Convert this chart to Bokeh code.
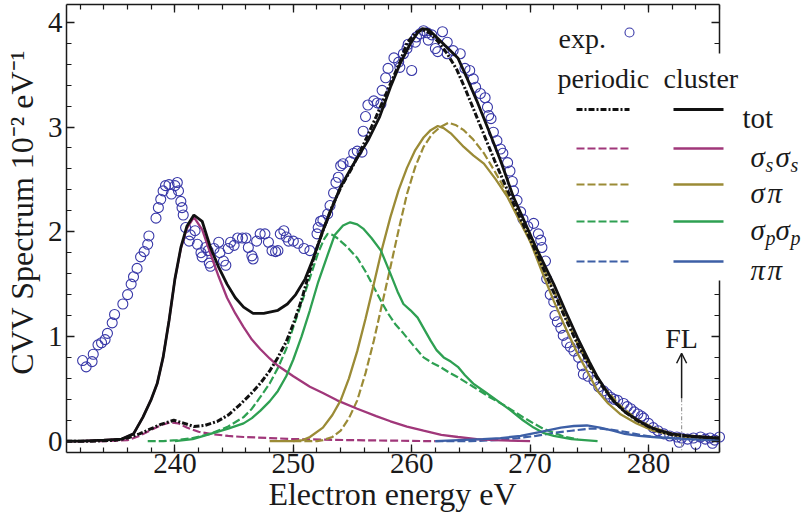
from bokeh.embed import file_html
from bokeh.models import (Arrow, BoxAnnotation, FixedTicker, Label, LinearAxis,
                          OpenHead, Range1d)
from bokeh.plotting import figure
from bokeh.resources import INLINE

# ---------------------------------------------------------------- data
# experimental CVV Auger spectrum (energy in eV, intensity in 1e-2 / eV)
exp_energy = [
    232.2, 232.5, 233.0, 233.1, 233.5, 233.8, 234.1, 234.3, 234.7, 234.9,
    235.6, 236.0, 236.3, 236.5, 236.8, 237.1, 237.4, 237.7, 237.8, 238.4,
    238.6, 238.8, 239.0, 239.2, 239.5, 239.7, 240.0, 240.2, 240.3, 240.5,
    240.6, 240.7, 240.9, 241.2, 241.3, 241.7, 241.9, 242.2, 242.3, 242.6,
    242.8, 242.9, 243.0, 243.3, 243.7, 243.8, 244.1, 244.3, 244.5, 244.7,
    245.0, 245.3, 245.7, 246.0, 246.2, 246.5, 246.6, 246.9, 247.2, 247.6,
    247.9, 248.2, 248.5, 248.7, 248.9, 249.2, 249.4, 249.6, 250.0, 250.4,
    250.9, 251.4, 252.0, 252.1, 252.3, 252.5, 252.9, 253.1, 253.4, 253.6,
    253.8, 254.0, 254.2, 254.8, 255.1, 255.4, 255.8, 255.9, 256.1, 256.3,
    256.8, 257.1, 257.4, 257.5, 257.8, 258.0, 258.5, 258.9, 259.0, 259.3,
    259.6, 259.7, 260.0, 260.3, 260.4, 260.7, 261.0, 261.3, 261.4, 261.7,
    262.0, 262.2, 262.6, 263.0, 263.0, 263.5, 264.1, 264.5, 264.9, 265.2,
    265.4, 265.8, 266.2, 266.4, 266.5, 266.7, 266.9, 267.2, 267.5, 267.7,
    268.1, 268.3, 268.5, 268.6, 268.9, 269.2, 269.4, 269.8, 270.3, 270.7,
    270.9, 271.0, 271.3, 271.4, 271.7, 272.0, 272.1, 272.3, 272.6, 272.8,
    273.1, 273.4, 273.7, 274.1, 274.4, 274.5, 274.9, 275.4, 275.8, 276.2,
    276.5, 276.8, 277.1, 277.4, 277.9, 278.2, 278.5, 278.8, 279.1, 279.4,
    279.6, 280.0, 280.4, 280.8, 281.3, 281.8, 282.4, 282.6, 282.8, 283.3,
    283.8, 284.0, 284.4, 284.8, 285.2, 285.4, 285.6, 286.0,
]
exp_cvv = [
    0.77, 0.71, 0.76, 0.83, 0.92, 0.94, 0.97, 1.03, 1.13, 1.21,
    1.31, 1.40, 1.50, 1.57, 1.65, 1.76, 1.81, 1.88, 1.96, 2.13,
    2.23, 2.31, 2.39, 2.44, 2.45, 2.36, 2.44, 2.47, 2.39, 2.29,
    2.23, 2.16, 2.04, 1.91, 1.97, 2.01, 1.88, 1.80, 1.76, 1.85,
    1.82, 1.70, 1.67, 1.84, 1.90, 1.80, 1.72, 1.68, 1.84, 1.90,
    1.87, 1.94, 1.94, 1.94, 1.85, 1.77, 1.74, 1.91, 1.98, 1.98,
    1.90, 1.82, 1.81, 1.82, 1.98, 2.01, 1.95, 1.91, 1.91, 1.89,
    1.84, 1.82, 1.98, 2.04, 2.10, 2.11, 2.17, 2.25, 2.37, 2.47,
    2.52, 2.63, 2.65, 2.67, 2.75, 2.77, 2.76, 2.96, 3.10, 3.21,
    3.25, 3.23, 3.22, 3.35, 3.47, 3.56, 3.66, 3.62, 3.57, 3.70,
    3.75, 3.79, 3.54, 3.81, 3.86, 3.89, 3.92, 3.90, 3.83, 3.88,
    3.75, 3.72, 3.91, 3.81, 3.70, 3.73, 3.70, 3.56, 3.54, 3.46,
    3.38, 3.32, 3.28, 3.19, 3.11, 3.08, 2.95, 2.87, 2.79, 2.75,
    2.66, 2.58, 2.48, 2.39, 2.30, 2.19, 2.12, 2.05, 2.08, 1.98,
    1.92, 1.85, 1.72, 1.55, 1.40, 1.33, 1.20, 1.14, 1.08, 1.01,
    0.94, 0.90, 0.86, 0.80, 0.72, 0.64, 0.62, 0.58, 0.52, 0.48,
    0.45, 0.42, 0.40, 0.39, 0.36, 0.33, 0.31, 0.28, 0.26, 0.24,
    0.22, 0.17, 0.13, 0.10, 0.07, 0.05, 0.04, -0.01, 0.03, 0.02,
    0.03, -0.03, 0.04, 0.02, 0.03, -0.02, 0.01, 0.04,
]

# total spectrum, cluster calculation
tot_cluster_e = [
    230.8, 232.0, 234.0, 235.5, 236.5, 237.3, 238.0, 238.5, 239.0, 239.5,
    240.0, 240.5, 241.0, 241.6, 242.3, 243.0, 243.7, 244.4, 245.1, 245.8,
    246.6, 247.5, 248.7, 249.5, 250.2, 251.0, 251.7, 252.5, 253.3, 254.0,
    255.0, 256.3, 257.3, 258.2, 259.0, 259.9, 260.5, 260.9, 261.4, 261.8,
    262.8, 263.9, 264.7, 265.5, 266.5, 267.5, 268.6, 269.2, 270.5, 272.0,
    273.0, 274.0, 275.0, 275.7, 276.5, 277.0, 278.0, 279.1, 280.0, 281.0,
    282.0, 283.3, 284.5, 286.0,
]
tot_cluster = [
    0.0, 0.0, 0.01, 0.02, 0.07, 0.23, 0.40, 0.55, 0.80, 1.15,
    1.55, 1.85, 2.05, 2.16, 2.10, 1.85, 1.66, 1.50, 1.37, 1.28,
    1.22, 1.22, 1.25, 1.31, 1.40, 1.55, 1.75, 2.01, 2.24, 2.43,
    2.63, 2.87, 3.10, 3.38, 3.60, 3.80, 3.90, 3.94, 3.93, 3.89,
    3.78, 3.66, 3.46, 3.25, 2.97, 2.68, 2.33, 2.18, 1.85, 1.50,
    1.24, 0.99, 0.76, 0.61, 0.47, 0.39, 0.28, 0.20, 0.14, 0.10,
    0.07, 0.05, 0.04, 0.03,
]

# total spectrum, periodic calculation
tot_periodic_e = [
    230.8, 233.0, 235.0, 236.0, 237.0, 238.0, 238.8, 239.9, 240.8, 241.6,
    242.5, 243.6, 244.5, 245.5, 246.4, 247.2, 248.0, 248.7, 249.4, 250.0,
    250.7, 251.4, 252.0, 252.5, 253.2, 254.0, 255.0, 256.0, 257.0, 258.0,
    259.0, 259.6, 260.3, 260.9, 261.5, 262.2, 263.0, 263.8, 264.5, 265.3,
    266.2, 267.0, 268.0, 269.0, 270.0, 271.0, 272.0, 273.0, 274.0, 275.0,
    276.0, 277.0, 278.0, 279.0, 280.0, 281.0, 282.0, 283.0, 284.5, 286.0,
]
tot_periodic = [
    0.0, 0.0, 0.01, 0.03, 0.07, 0.12, 0.16, 0.20, 0.17, 0.14,
    0.15, 0.19, 0.25, 0.35, 0.45, 0.55, 0.67, 0.80, 0.95, 1.12,
    1.35, 1.63, 1.85, 2.01, 2.22, 2.42, 2.62, 2.85, 3.10, 3.36,
    3.62, 3.80, 3.90, 3.93, 3.90, 3.82, 3.70, 3.55, 3.37, 3.15,
    2.90, 2.68, 2.42, 2.17, 1.93, 1.68, 1.42, 1.17, 0.93, 0.72,
    0.54, 0.39, 0.28, 0.20, 0.14, 0.09, 0.06, 0.05, 0.04, 0.03,
]

# sigma_s sigma_s partial spectrum
ss_cluster_e = [
    230.8, 232.0, 234.0, 235.5, 236.5, 237.3, 238.0, 238.5, 239.0, 239.5,
    240.0, 240.5, 241.0, 241.6, 242.3, 243.0, 243.7, 244.4, 245.1, 245.8,
    246.5, 247.2, 248.0, 248.7, 250.0, 251.4, 252.5, 253.7, 255.4, 257.0,
    258.2, 259.6, 261.0, 262.5, 263.9, 265.5, 267.0, 270.0,
]
ss_cluster = [
    0.0, 0.0, 0.01, 0.02, 0.07, 0.23, 0.40, 0.55, 0.80, 1.15,
    1.55, 1.84, 2.03, 2.14, 2.02, 1.79, 1.57, 1.37, 1.22, 1.09,
    0.97, 0.88, 0.79, 0.72, 0.62, 0.52, 0.46, 0.39, 0.31, 0.24,
    0.19, 0.14, 0.10, 0.06, 0.04, 0.02, 0.01, 0.0,
]
ss_periodic_e = [
    230.8, 234.0, 236.0, 237.0, 238.2, 239.0, 239.6, 240.3, 241.0, 242.0,
    243.0, 244.5, 245.8, 248.0, 250.0, 255.0, 262.0,
]
ss_periodic = [
    0.0, 0.0, 0.01, 0.05, 0.12, 0.16, 0.18, 0.17, 0.13, 0.09,
    0.07, 0.05, 0.04, 0.03, 0.02, 0.01, 0.0,
]

# sigma pi partial spectrum
sp_cluster_e = [
    248.0, 250.0, 250.8, 251.4, 252.5, 253.3, 254.0, 254.7, 255.4, 256.1,
    256.8, 257.5, 258.2, 258.9, 259.6, 260.3, 261.0, 261.6, 262.2, 262.7,
    263.3, 264.4, 265.2, 266.1, 267.1, 268.1, 269.0, 270.0, 271.0, 272.0,
    273.0, 274.0, 275.0, 275.7, 276.6, 277.6, 279.0, 280.4, 282.0, 283.3,
    286.0,
]
sp_cluster = [
    0.0, 0.0, 0.01, 0.04, 0.13, 0.25, 0.39, 0.60, 0.86, 1.17,
    1.50, 1.84, 2.14, 2.40, 2.61, 2.78, 2.90, 2.97, 3.01, 2.99,
    2.94, 2.81, 2.73, 2.65, 2.50, 2.33, 2.13, 1.91, 1.62, 1.34,
    1.08, 0.84, 0.63, 0.48, 0.36, 0.26, 0.17, 0.10, 0.06, 0.04,
    0.02,
]
sp_periodic_e = [
    250.0, 252.0, 252.5, 253.3, 254.0, 254.7, 255.4, 256.1, 256.8, 257.5,
    258.2, 258.9, 259.6, 260.3, 261.0, 261.7, 262.4, 263.1, 263.7, 264.4,
    265.2, 266.1, 267.1, 268.1, 269.0, 270.0, 271.0, 272.0, 273.0, 274.0,
    275.0, 276.2, 277.6, 279.0, 280.4, 282.0, 283.3, 286.0,
]
sp_periodic = [
    0.0, 0.0, 0.01, 0.04, 0.10, 0.22, 0.39, 0.65, 0.96, 1.31,
    1.66, 2.02, 2.36, 2.62, 2.81, 2.93, 3.00, 3.04, 3.02, 2.97,
    2.88, 2.75, 2.56, 2.36, 2.15, 1.91, 1.68, 1.44, 1.18, 0.93,
    0.73, 0.52, 0.34, 0.21, 0.13, 0.07, 0.05, 0.03,
]

# sigma_p sigma_p partial spectrum
pp_cluster_e = [
    240.0, 241.5, 243.0, 244.5, 245.8, 246.5, 247.2, 248.0, 248.7, 249.4,
    250.0, 250.7, 251.4, 252.1, 252.9, 253.5, 254.2, 254.8, 255.4, 255.9,
    256.6, 257.4, 258.2, 258.8, 259.3, 259.9, 260.5, 261.0, 261.6, 262.1,
    262.7, 263.3, 263.9, 264.5, 265.2, 266.2, 267.2, 268.3, 269.4, 270.3,
    271.1, 272.0, 273.5, 275.7,
]
pp_cluster = [
    0.0, 0.02, 0.07, 0.12, 0.17, 0.22, 0.29, 0.38, 0.48, 0.62,
    0.78, 1.00, 1.25, 1.52, 1.78, 1.97, 2.06, 2.09, 2.07, 2.03,
    1.94, 1.82, 1.60, 1.43, 1.31, 1.25, 1.18, 1.08, 0.96, 0.87,
    0.80, 0.76, 0.71, 0.63, 0.55, 0.47, 0.39, 0.30, 0.20, 0.13,
    0.08, 0.05, 0.02, 0.0,
]
pp_periodic_e = [
    237.7, 239.0, 240.2, 241.5, 243.0, 244.5, 245.8, 246.5, 247.2, 248.0,
    248.7, 249.4, 250.0, 250.7, 251.4, 252.1, 252.6, 252.9, 253.3, 253.7,
    254.5, 255.4, 256.1, 256.8, 257.4, 258.0, 258.6, 259.3, 260.1, 261.0,
    261.7, 262.4, 263.1, 263.9, 265.2, 266.6, 268.0, 269.4, 270.3, 271.1,
    272.0, 273.0, 274.0,
]
pp_periodic = [
    0.0, 0.0, 0.01, 0.03, 0.07, 0.14, 0.23, 0.31, 0.42, 0.55,
    0.70, 0.88, 1.09, 1.32, 1.56, 1.80, 1.93, 1.98, 1.97, 1.94,
    1.86, 1.75, 1.62, 1.47, 1.34, 1.22, 1.12, 1.03, 0.92, 0.80,
    0.75, 0.71, 0.66, 0.61, 0.52, 0.42, 0.33, 0.23, 0.17, 0.12,
    0.08, 0.04, 0.02,
]

# pi pi partial spectrum
pipi_cluster_e = [
    262.0, 264.0, 266.0, 267.5, 269.2, 270.9, 272.6, 273.7, 274.8, 275.9,
    277.0, 278.0, 279.2, 280.4, 282.0, 283.3, 286.0,
]
pipi_cluster = [
    0.0, 0.01, 0.02, 0.03, 0.05, 0.09, 0.13, 0.145, 0.15, 0.13,
    0.10, 0.07, 0.05, 0.04, 0.03, 0.02, 0.01,
]
pipi_periodic_e = [
    262.0, 265.0, 267.0, 269.0, 270.5, 272.0, 273.5, 275.0, 276.0, 276.8,
    278.0, 279.3, 280.5, 282.0, 283.5, 286.0,
]
pipi_periodic = [
    0.0, 0.0, 0.01, 0.03, 0.05, 0.08, 0.10, 0.12, 0.12, 0.11,
    0.09, 0.06, 0.04, 0.03, 0.02, 0.01,
]

fermi_level = 282.8
fl_arrow_span = (0.41, 0.84)   # arrow tail and tip, in spectrum units
fl_label_height = 0.98

x_major = [240, 250, 260, 270, 280]
y_major = [0, 1, 2, 3, 4]
x_minor = [232 + 2 * i for i in range(28)]
y_minor = [round(0.2 * i, 1) for i in range(21)]

NBSP = "\u00a0"
# the frame runs on under the legend, so pad the titles to centre them
# under the part of the frame enclosed by the spines
x_label = "Electron energy eV" + NBSP * 11
y_label = NBSP * 4 + "CVV Spectrum 10\u207b\u00b2 eV\u207b\u00b9"

# ---------------------------------------------------------------- geometry
W, H = 806, 521
FL, FT, FB = 66, 4, 452            # frame edges on the canvas
AX_R = 719                         # canvas x of the right spine
E0, E1 = 230.84, 286.0             # energy window enclosed by the spines
V0, V1 = -0.108, 4.17
PX_PER_EV = (AX_R - FL) / (E1 - E0)
E_CANVAS_END = E0 + (W - FL) / PX_PER_EV   # legend area right of the spine

SERIF = "Liberation Serif"
INK = "#1a1a1a"
C_EXP = "#3838a8"
C_TOT = "#111111"
C_SS = "#a0377a"
C_SP = "#9b8b36"
C_PP = "#2ea052"
C_PIPI = "#3d5fa6"
PERIODIC_DASH = "8 3"
TOT_DASH = "6 2 2 2"

p = figure(
    width=W, height=H,
    x_range=Range1d(E0, E_CANVAS_END), y_range=Range1d(V0, V1),
    x_axis_location=None, y_axis_location=None,
    min_border_left=FL, min_border_right=0,
    min_border_top=FT, min_border_bottom=H - FB,
    output_backend="svg", toolbar_location=None,
)
p.outline_line_color = None
p.background_fill_color = "white"
p.border_fill_color = "white"
p.xgrid.visible = False
p.ygrid.visible = False


def frame_axis(major, minor, labelled, bounds="auto"):
    ax = LinearAxis(ticker=FixedTicker(ticks=major, minor_ticks=minor),
                    bounds=bounds)
    ax.axis_line_color = INK
    ax.axis_line_width = 1.5
    ax.major_tick_line_color = INK
    ax.major_tick_line_width = 1.3
    ax.minor_tick_line_color = INK
    ax.minor_tick_line_width = 1.2
    ax.major_tick_in, ax.major_tick_out = 8, 0
    ax.minor_tick_in, ax.minor_tick_out = 5, 0
    if labelled:
        ax.major_label_text_font = SERIF
        ax.major_label_text_font_size = "29px"
        ax.major_label_text_color = INK
        ax.axis_label_text_font = SERIF
        ax.axis_label_text_font_size = "32px"
        ax.axis_label_text_font_style = "normal"
        ax.axis_label_text_color = INK
    else:
        ax.major_label_text_font_size = "0px"
        ax.major_label_text_alpha = 0
        ax.major_label_standoff = 0
    return ax


bottom = frame_axis(x_major, x_minor, True, bounds=(E0, E1))
bottom.major_label_standoff = 1
bottom.axis_label = x_label
bottom.axis_label_standoff = 0
left = frame_axis(y_major, y_minor, True)
left.major_label_standoff = 4
left.axis_label = y_label
left.axis_label_standoff = 5
top = frame_axis(x_major, x_minor, False, bounds=(E0, E1))
right = frame_axis(y_major, y_minor, False)
right.fixed_location = E1
p.add_layout(bottom, "below")
p.add_layout(left, "left")
p.add_layout(top, "above")
p.add_layout(right, "right")

# ---------------------------------------------------------------- curves
p.scatter(exp_energy, exp_cvv, marker="circle", size=10, fill_color=None,
          line_color=C_EXP, line_width=1.1)

for xs, ys, col in [(ss_periodic_e, ss_periodic, C_SS),
                    (sp_periodic_e, sp_periodic, C_SP),
                    (pp_periodic_e, pp_periodic, C_PP),
                    (pipi_periodic_e, pipi_periodic, C_PIPI)]:
    p.line(xs, ys, line_color=col, line_width=2.2, line_dash=PERIODIC_DASH)

for xs, ys, col in [(ss_cluster_e, ss_cluster, C_SS),
                    (sp_cluster_e, sp_cluster, C_SP),
                    (pp_cluster_e, pp_cluster, C_PP),
                    (pipi_cluster_e, pipi_cluster, C_PIPI)]:
    p.line(xs, ys, line_color=col, line_width=2.3)

p.line(tot_periodic_e, tot_periodic, line_color=C_TOT, line_width=3,
       line_dash=TOT_DASH)
p.line(tot_cluster_e, tot_cluster, line_color=C_TOT, line_width=2.8)

# Fermi level marker
p.line([fermi_level, fermi_level], [fl_arrow_span[0], V0],
       line_color="#9a9a9a", line_width=1.2, line_dash="4 2 1 2")
p.add_layout(Arrow(x_start=fermi_level, y_start=fl_arrow_span[0],
                   x_end=fermi_level, y_end=fl_arrow_span[1],
                   line_color=INK, line_width=1.5,
                   end=OpenHead(size=10, line_color=INK, line_width=1.5)))
p.add_layout(Label(x=fermi_level, y=fl_label_height, text="FL",
                   text_font=SERIF, text_font_size="28px", text_color=INK,
                   text_align="center", text_baseline="middle"))

# ---------------------------------------------------------------- legend
# white panel over the middle of the right spine
p.add_layout(BoxAnnotation(left=557, right=W, top=53, bottom=280,
                           left_units="canvas", right_units="canvas",
                           top_units="canvas", bottom_units="canvas",
                           fill_color="white", fill_alpha=1.0,
                           line_color=None, level="annotation"))


def legend_text(x, y, text, size="28px", italic=False):
    p.add_layout(Label(x=x, y=y, x_units="canvas", y_units="canvas",
                       text=text, text_font=SERIF, text_font_size=size,
                       text_font_style="italic" if italic else "normal",
                       text_color=INK, text_align="left",
                       text_baseline="alphabetic", level="overlay"))


def legend_line(x0, x1, y, color, width, dash):
    p.add_layout(Arrow(x_start=x0, y_start=y, x_end=x1, y_end=y,
                       start_units="canvas", end_units="canvas",
                       start=None, end=None, line_color=color,
                       line_width=width, line_dash=dash, level="overlay"))


legend_text(558, 38, "exp.")
key_e = E0 + (629 - FL) / PX_PER_EV
key_v = V1 - (32 - FT) * (V1 - V0) / (FB - FT)
p.scatter([key_e], [key_v], marker="circle", size=9, fill_color=None,
          line_color=C_EXP, line_width=1.1)
legend_text(557, 78, "periodic")
legend_text(663, 78, "cluster")

rows = [
    (109, C_TOT, TOT_DASH, 3.0, 2.8, [("tot", 0, 0, "29px", False)]),
    (148, C_SS, PERIODIC_DASH, 2.2, 2.3,
     [("\u03c3", 0, 0, "29px", True), ("s", 15, 8, "20px", True),
      ("\u03c3", 25, 0, "29px", True), ("s", 40, 8, "20px", True)]),
    (184, C_SP, PERIODIC_DASH, 2.2, 2.3,
     [("\u03c3", 0, 0, "29px", True), ("\u03c0", 17, 0, "29px", True)]),
    (221, C_PP, PERIODIC_DASH, 2.2, 2.3,
     [("\u03c3", 0, 0, "29px", True), ("p", 15, 8, "20px", True),
      ("\u03c3", 25, 0, "29px", True), ("p", 40, 8, "20px", True)]),
    (261, C_PIPI, PERIODIC_DASH, 2.2, 2.3,
     [("\u03c0", 0, 0, "29px", True), ("\u03c0", 17, 0, "29px", True)]),
]
for y, col, dash, wp, wc, parts in rows:
    legend_line(576, 629, y, col, wp, dash)
    legend_line(673, 723, y, col, wc, "solid")
    x0 = 742 if parts[0][0] == "tot" else 750
    for text, dx, dy, size, italic in parts:
        legend_text(x0 + dx, y + 8 + dy, text, size, italic)

open("out.html", "w").write(file_html(p, INLINE))
